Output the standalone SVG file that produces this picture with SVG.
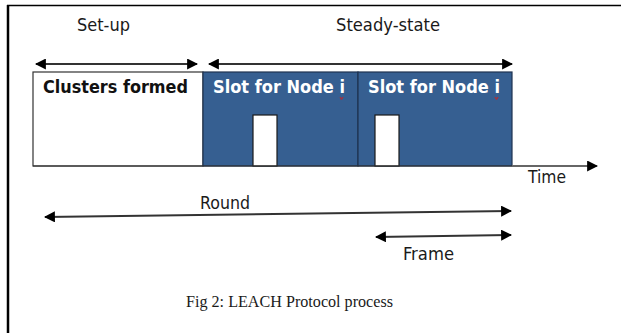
<svg xmlns="http://www.w3.org/2000/svg" width="621" height="333" viewBox="0 0 621 333">
  <style>
    .lbl { font-family: "DejaVu Sans Condensed", "DejaVu Sans", sans-serif; font-size: 18px; fill: #1a1a1a; }
    .head { font-family: "DejaVu Sans Condensed", "DejaVu Sans", sans-serif; font-size: 18px; font-weight: bold; }
    .cap { font-family: "Liberation Serif", serif; font-size: 16.5px; fill: #1a1a1a; }
    .span { stroke: #333; stroke-width: 2; fill: none; }
    .slot { fill: #365f91; stroke: #1e3350; stroke-width: 1.2; }
    .gap { fill: #ffffff; stroke: #1a1a1a; stroke-width: 1.2; }
  </style>
  <defs>
    <marker id="tip" viewBox="0 0 10 10" refX="9" refY="5" markerWidth="5.5" markerHeight="5.5" orient="auto-start-reverse" markerUnits="strokeWidth">
      <path d="M0,0 L10,5 L0,10 Z" fill="#000"/>
    </marker>
  </defs>

  <!-- frame edges -->
  <rect x="0" y="0" width="621" height="333" fill="#ffffff"/>
  <line x1="7" y1="5.5" x2="621" y2="5.5" stroke="#000" stroke-width="1.5"/>
  <line x1="8" y1="5" x2="8" y2="333" stroke="#000" stroke-width="2.5"/>

  <!-- phase labels -->
  <text class="lbl" x="77" y="31" textLength="53" lengthAdjust="spacingAndGlyphs">Set-up</text>
  <text class="lbl" x="336" y="31" textLength="104" lengthAdjust="spacingAndGlyphs">Steady-state</text>

  <g id="setup-phase">
    <rect x="33" y="72" width="170" height="94" fill="#ffffff" stroke="#333" stroke-width="1.2"/>
    <text class="head" x="43" y="93" fill="#111" textLength="145" lengthAdjust="spacingAndGlyphs">Clusters formed</text>
  </g>

  <g id="slot-1">
    <rect class="slot" x="203" y="72" width="155" height="94"/>
    <rect class="gap" x="253" y="115" width="24" height="51"/>
    <text class="head" x="213" y="93" fill="#ffffff" textLength="132" lengthAdjust="spacingAndGlyphs">Slot for Node i</text>
    <path d="M340,97 l1.5,2.5 l1.5,-2.5" fill="none" stroke="#d02020" stroke-width="1"/>
  </g>

  <g id="slot-2">
    <rect class="slot" x="358" y="72" width="154" height="94"/>
    <rect class="gap" x="375" y="115" width="24" height="51"/>
    <text class="head" x="368" y="93" fill="#ffffff" textLength="132" lengthAdjust="spacingAndGlyphs">Slot for Node i</text>
    <path d="M495,97 l1.5,2.5 l1.5,-2.5" fill="none" stroke="#d02020" stroke-width="1"/>
  </g>

  <g id="connectors">
    <line class="span" x1="36" y1="64" x2="197" y2="64" marker-start="url(#tip)" marker-end="url(#tip)"/>
    <line class="span" x1="209" y1="64" x2="512" y2="64" marker-start="url(#tip)" marker-end="url(#tip)"/>
    <line x1="512" y1="166" x2="597" y2="166" stroke="#666" stroke-width="2" marker-end="url(#tip)"/>
    <line x1="33" y1="166" x2="512" y2="166" stroke="#333" stroke-width="1.2"/>
    <line class="span" x1="45" y1="217" x2="511" y2="211" marker-start="url(#tip)" marker-end="url(#tip)"/>
    <line class="span" x1="376" y1="237" x2="511" y2="235" marker-start="url(#tip)" marker-end="url(#tip)"/>
  </g>

  <text class="lbl" x="528" y="183" textLength="38" lengthAdjust="spacingAndGlyphs">Time</text>
  <text class="lbl" x="200" y="209" textLength="50" lengthAdjust="spacingAndGlyphs">Round</text>
  <text class="lbl" x="403" y="260" textLength="51" lengthAdjust="spacingAndGlyphs">Frame</text>

  <text class="cap" x="186" y="307" textLength="207" lengthAdjust="spacingAndGlyphs">Fig 2: LEACH Protocol process</text>
</svg>
